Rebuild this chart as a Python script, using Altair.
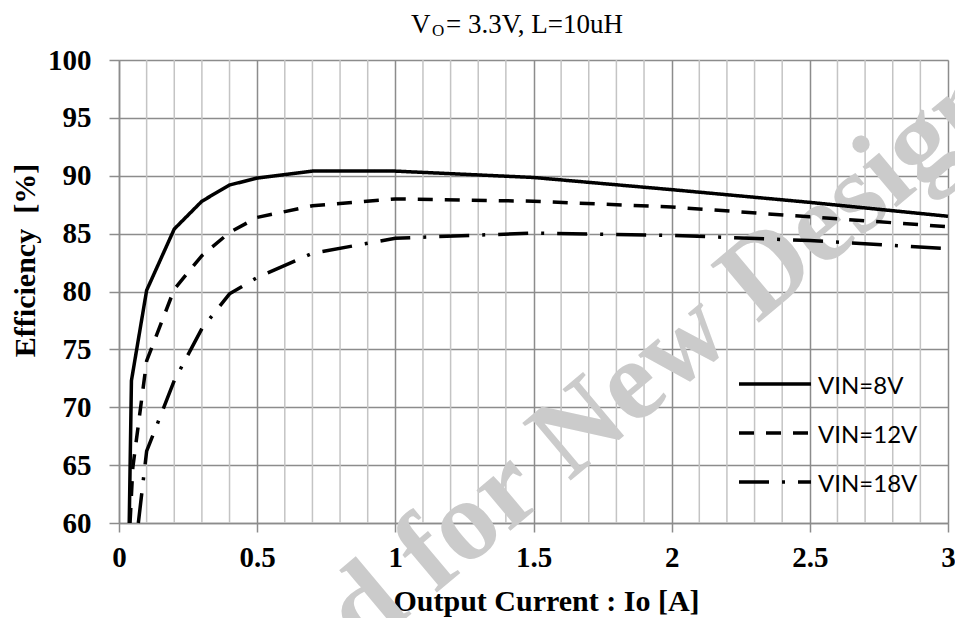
import altair as alt
import pandas as pd

# ---- data ----
series_names = ["VIN=8V", "VIN=12V", "VIN=18V"]

x_8v = [0.037, 0.045, 0.1, 0.2, 0.3, 0.4, 0.5, 0.7, 1.0, 1.5, 2.0, 2.5, 3.0]
y_8v = [60.0, 72.3, 80.1, 85.4, 87.8, 89.2, 89.8, 90.4, 90.4, 89.85, 88.8, 87.7, 86.5]

x_12v = [0.04, 0.05, 0.1, 0.2, 0.3, 0.4, 0.5, 0.7, 1.0, 1.5, 2.0, 2.5, 3.0]
y_12v = [60.0, 64.8, 74.0, 80.2, 83.1, 85.1, 86.4, 87.4, 88.0, 87.8, 87.3, 86.45, 85.6]

x_18v = [0.07, 0.1, 0.2, 0.3, 0.4, 0.5, 0.7, 1.0, 1.5, 2.0, 2.5, 3.0]
y_18v = [60.0, 66.2, 72.3, 76.8, 79.8, 81.2, 83.3, 84.6, 85.05, 84.85, 84.4, 83.7]

x_major_ticks = [0, 0.5, 1, 1.5, 2, 2.5, 3]
x_minor_ticks = [0.1, 0.2, 0.3, 0.4, 0.6, 0.7, 0.8, 0.9, 1.1, 1.2, 1.3, 1.4,
                 1.6, 1.7, 1.8, 1.9, 2.1, 2.2, 2.3, 2.4, 2.6, 2.7, 2.8, 2.9]
y_ticks = [60, 65, 70, 75, 80, 85, 90, 95, 100]

title_main = "V"
title_sub = "O"
title_rest = "= 3.3V, L=10uH"
x_title = "Output Current : Io [A]"
y_title = "Efficiency\u00a0 [%]"
watermark_a = "Not Recommended for"
watermark_b = "New Design"

rows = []
for name, xs, ys in zip(series_names, [x_8v, x_12v, x_18v], [y_8v, y_12v, y_18v]):
    for xv, yv in zip(xs, ys):
        rows.append({"series": name, "x": xv, "y": yv})
df = pd.DataFrame(rows)

dash_range = [[1, 0], [15, 12], [30, 13, 3, 13]]
dash_scale = alt.Scale(domain=series_names, range=dash_range)

W, H = 829, 463
SERIF = "Liberation Serif"
GRID_DARK = "#8c8c8c"
GRID_LIGHT = "#c4c4c4"

x_scale = alt.Scale(domain=[0, 3], nice=False, zero=False)
y_scale = alt.Scale(domain=[60, 100], nice=False, zero=False)

# minor vertical grid
minor = alt.Chart(pd.DataFrame({"x": x_minor_ticks})).mark_rule(
    color=GRID_LIGHT, strokeWidth=1.5
).encode(x=alt.X("x:Q", scale=x_scale))

# watermark
wm_common = dict(font=SERIF, fontWeight="bold", fontSize=115, color="#cbcbcb",
                 angle=320, baseline="alphabetic")
wm1 = alt.Chart(pd.DataFrame({"t": [watermark_a]})).mark_text(align="right", **wm_common).encode(
    x=alt.value(428), y=alt.value(440), text="t:N")
wm2 = alt.Chart(pd.DataFrame({"t": [watermark_b]})).mark_text(align="left", **wm_common).encode(
    x=alt.value(450), y=alt.value(422), text="t:N")

lines = alt.Chart(df).mark_line(color="black", strokeWidth=3.5, strokeCap="butt").encode(
    x=alt.X("x:Q", scale=x_scale,
            axis=alt.Axis(values=x_major_ticks, format="~g", grid=True, gridColor=GRID_DARK,
                          gridWidth=1.5, domainColor=GRID_DARK, domainWidth=1.5,
                          tickColor=GRID_DARK, tickWidth=1.5, tickSize=9,
                          labelFont=SERIF, labelFontWeight="bold", labelFontSize=29,
                          labelColor="black", labelPadding=11, labelFlush=False,
                          title=x_title, titleFont=SERIF, titleFontWeight="bold",
                          titleFontSize=30, titleColor="black", titleX=427, titleY=87,
                          titleAlign="center", titleBaseline="alphabetic")),
    y=alt.Y("y:Q", scale=y_scale,
            axis=alt.Axis(values=y_ticks, format="d", grid=True, gridColor=GRID_DARK,
                          gridWidth=1.5, domainColor=GRID_DARK, domainWidth=1.5,
                          tickColor=GRID_DARK, tickWidth=1.5, tickSize=10,
                          labelFont=SERIF, labelFontWeight="bold", labelFontSize=29,
                          labelColor="black", labelPadding=18, labelFlush=False,
                          title=y_title, titleFont=SERIF, titleFontWeight="bold",
                          titleFontSize=30, titleColor="black", titleX=-85, titleY=200,
                          titleAngle=270, titleAlign="center", titleBaseline="alphabetic")),
    strokeDash=alt.StrokeDash("series:N", scale=dash_scale, legend=None),
    detail="series:N",
)

# custom legend
leg_df = pd.DataFrame({"series": series_names})
leg_y = alt.Y("series:N", scale=alt.Scale(type="point", domain=series_names, range=[324, 422], padding=0), axis=None)
leg_rules = alt.Chart(leg_df).mark_rule(color="black", strokeWidth=3.5, strokeCap="butt").encode(
    y=leg_y, x=alt.value(620), x2=alt.value(692),
    strokeDash=alt.StrokeDash("series:N", scale=dash_scale, legend=None))
leg_text = alt.Chart(leg_df).mark_text(align="left", baseline="middle", dy=3, font="Lato",
                                       fontSize=24, color="black").encode(
    y=leg_y, x=alt.value(699), text="series:N")

# title with subscript
t1 = alt.Chart(pd.DataFrame({"t": [title_main]})).mark_text(
    font=SERIF, fontSize=27, align="left", baseline="alphabetic", color="black").encode(
    x=alt.value(292), y=alt.value(-27), text="t:N")
t2 = alt.Chart(pd.DataFrame({"t": [title_sub]})).mark_text(
    font=SERIF, fontSize=17, align="left", baseline="alphabetic", color="black").encode(
    x=alt.value(313), y=alt.value(-24), text="t:N")
t3 = alt.Chart(pd.DataFrame({"t": [title_rest]})).mark_text(
    font=SERIF, fontSize=27, align="left", baseline="alphabetic", color="black").encode(
    x=alt.value(327), y=alt.value(-27), text="t:N")

chart = alt.layer(minor, wm1, wm2, lines, leg_rules, leg_text, t1, t2, t3).resolve_scale(
    y="independent"
).properties(
    width=W, height=H,
    autosize=alt.AutoSizeParams(type="none"),
    padding={"left": 111, "top": 52, "right": 7, "bottom": 95},
).configure_view(stroke=None).configure(background="white")

chart.save("out.html", embed_options={"renderer": "svg", "actions": False})
